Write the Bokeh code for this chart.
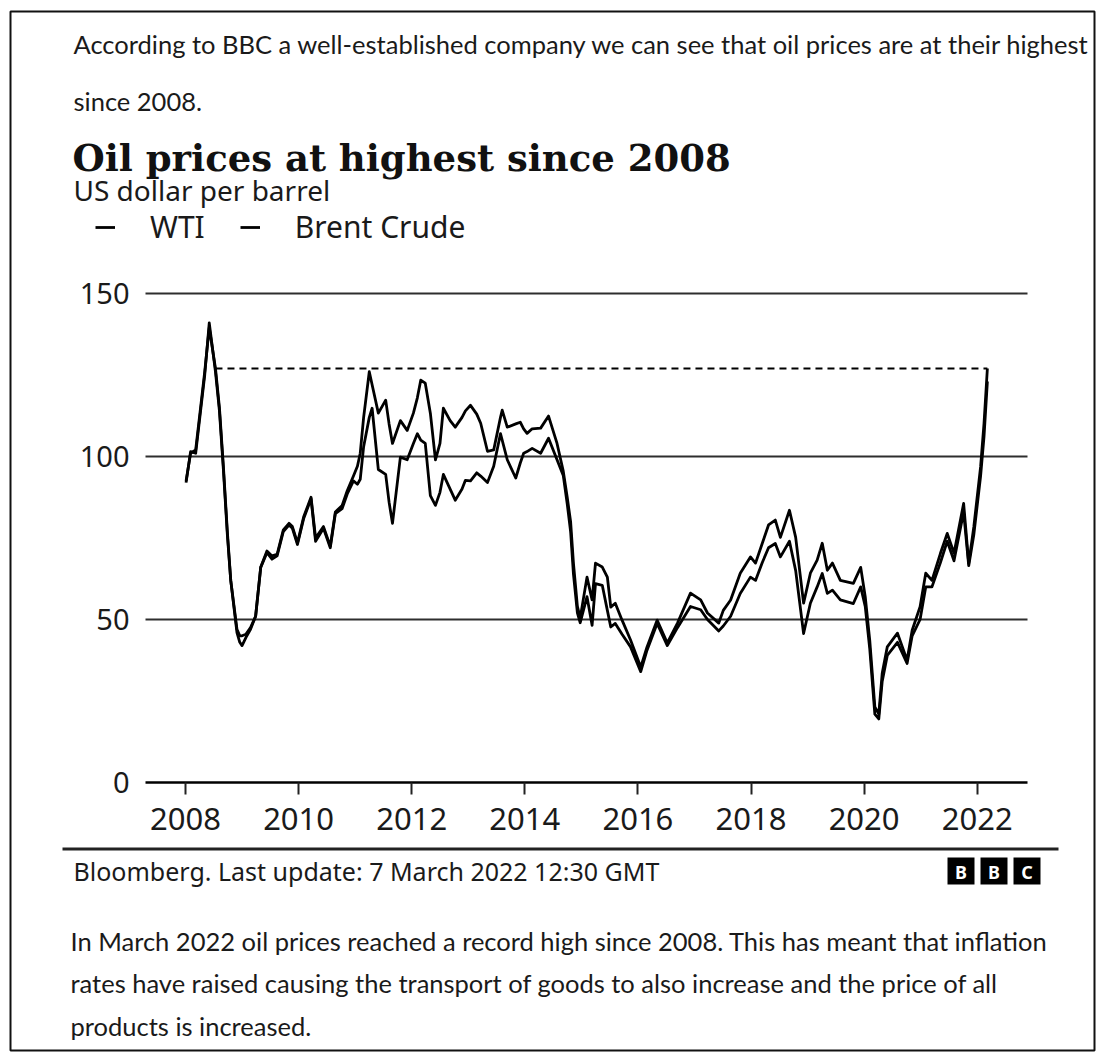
from bokeh.plotting import figure
from bokeh.models import (Range1d, FixedTicker, Label, BoxAnnotation, Legend, LegendItem,
                          ColumnDataSource, Grid)
from bokeh.embed import file_html
from bokeh.resources import INLINE

# ---------------- data (decimal years, US$ per barrel) ----------------
dates = [2008.01, 2008.09, 2008.18, 2008.26, 2008.34, 2008.42, 2008.53, 2008.60, 2008.67, 2008.74,
         2008.80, 2008.91, 2008.96, 2009.00, 2009.07, 2009.15, 2009.24, 2009.33, 2009.44, 2009.53,
         2009.62, 2009.73, 2009.83, 2009.89, 2009.98, 2010.09, 2010.22, 2010.30, 2010.44, 2010.56,
         2010.65, 2010.77, 2010.86, 2010.97, 2011.04, 2011.09, 2011.15, 2011.25, 2011.30, 2011.41,
         2011.54, 2011.60, 2011.66, 2011.80, 2011.92, 2012.03, 2012.10, 2012.16, 2012.24, 2012.33,
         2012.42, 2012.50, 2012.56, 2012.68, 2012.77, 2012.89, 2012.95, 2013.04, 2013.15, 2013.22,
         2013.34, 2013.45, 2013.57, 2013.60, 2013.69, 2013.84, 2013.92, 2013.98, 2014.04, 2014.13,
         2014.28, 2014.42, 2014.57, 2014.68, 2014.75, 2014.81, 2014.86, 2014.93, 2014.98, 2015.10,
         2015.19, 2015.25, 2015.37, 2015.46, 2015.52, 2015.60, 2015.72, 2015.87, 2016.05, 2016.16,
         2016.34, 2016.52, 2016.70, 2016.93, 2017.11, 2017.23, 2017.43, 2017.51, 2017.64, 2017.81,
         2017.99, 2018.08, 2018.20, 2018.31, 2018.43, 2018.52, 2018.68, 2018.79, 2018.93, 2019.05,
         2019.17, 2019.26, 2019.35, 2019.44, 2019.58, 2019.81, 2019.94, 2020.02, 2020.10, 2020.19,
         2020.26, 2020.32, 2020.41, 2020.59, 2020.76, 2020.85, 2020.99, 2021.09, 2021.20, 2021.35,
         2021.47, 2021.59, 2021.76, 2021.85, 2021.94, 2022.06, 2022.12, 2022.18]

brent = [92.5, 101, 102, 114, 126, 139.5, 127, 115, 97, 77,
         62, 47, 45, 45, 45.5, 47.5, 51, 66, 71, 69.5,
         70, 77.5, 79.5, 78.5, 73.5, 81.5, 87.5, 75, 78.5, 72.5,
         83, 85, 89.5, 94, 97, 101, 112, 126, 122, 113.3,
         117.3, 110, 104, 111, 108, 113.3, 118, 123.4, 122.5, 113.3,
         99, 104, 114.8, 111, 109, 112, 114, 115.7, 113, 110.2,
         101.6, 102, 112, 114.2, 109, 110, 110.5, 108.5, 107.1, 108.5,
         108.7, 112.4, 104, 95.5, 87.5, 80, 67.3, 54, 50.5, 63,
         56, 67.3, 66.1, 63, 53.8, 55, 49.8, 43.7, 35.4, 41.5,
         49.8, 42.8, 48.9, 58.1, 56, 52, 48.9, 52.8, 56, 64.2,
         69.2, 67.3, 73.4, 79, 80.5, 75.2, 83.5, 75.2, 55, 64.2,
         68.2, 73.4, 65.1, 67.3, 62, 61.1, 66, 57, 43.6, 23.2,
         21, 33.5, 41.6, 45.8, 37.5, 46.7, 53.9, 64.2, 62, 70.3,
         76.4, 70.3, 85.6, 67.2, 78.4, 96.8, 110, 127]

wti = [92, 101.5, 101, 113, 125, 141, 126, 114, 96, 76,
       62, 46, 43, 42, 44.5, 47, 51, 66, 70.5, 68.5,
       69.5, 77, 79, 78, 73, 81, 87, 74, 78, 72,
       82.5, 84, 88.5, 92.5, 91.5, 93, 103, 112, 114.8, 96,
       94.5, 86, 79.5, 99.8, 99, 104, 107, 105, 104, 88,
       85, 89, 94.5, 90, 86.6, 90, 92.7, 92.5, 95, 94,
       92, 97, 107, 105, 99, 93.4, 98, 101, 101.5, 102.5,
       101, 105.6, 99, 94.2, 85.5, 77, 64, 52, 49, 57,
       48.2, 61, 60.5, 52.8, 47.7, 48.8, 45.5, 41.6, 34, 40.5,
       48.8, 42, 47.5, 54, 53, 50, 46.5, 48, 51, 58,
       63, 62, 67.5, 72, 73.3, 69.2, 74, 65, 45.7, 55,
       60, 64.1, 58, 59, 56, 54.9, 60, 54, 41, 21,
       19.5, 31, 39, 43, 36.5, 45, 50, 60, 60, 67.5,
       74, 68, 83, 66.5, 76, 94, 106, 123]

x_ticks = [2008, 2010, 2012, 2014, 2016, 2018, 2020, 2022]
y_ticks = [0, 50, 100, 150]
grid_values = [50, 100, 150]
record_since = 2008.53          # date the price last stood at today's level
record_level = brent[-1]

series_names = ["WTI", "Brent Crude"]

title_text = "Oil prices at highest since 2008"
subtitle_text = "US dollar per barrel"
source_text = "Bloomberg. Last update: 7 March 2022 12:30 GMT"
intro_lines = ["According to BBC a well-established company we can see that oil prices are at their highest",
               "since 2008."]
outro_lines = ["In March 2022 oil prices reached a record high since 2008. This has meant that inflation",
               "rates have raised causing the transport of goods to also increase and the price of all",
               "products is increased."]

# ---------------- layout constants (canvas pixels) ----------------
W, H = 1103, 1059
PLOT_LEFT, PLOT_RIGHT, ZERO_Y = 145, 1027, 782
X2008 = 185
PX_PER_YEAR = 56.55
PX_PER_UNIT = 3.26

# the frame fills the whole canvas; ranges chosen so the data area lands where it should
x_start = 2008 - X2008 / PX_PER_YEAR
x_end = 2008 + (W - X2008) / PX_PER_YEAR
y_start = -(H - ZERO_Y) / PX_PER_UNIT
y_end = ZERO_Y / PX_PER_UNIT
x_left = 2008 - (X2008 - PLOT_LEFT) / PX_PER_YEAR
x_right = 2008 + (PLOT_RIGHT - X2008) / PX_PER_YEAR


def sx(X):
    return X


def sy(Y):
    return H - Y


p = figure(width=W, height=H, output_backend="svg", toolbar_location=None,
           x_range=Range1d(x_start, x_end), y_range=Range1d(y_start, y_end),
           min_border=0, min_border_left=0, min_border_right=0,
           min_border_top=0, min_border_bottom=0)
p.outline_line_color = None
p.background_fill_color = "white"
p.border_fill_color = "white"

TXT = "#1a1a1a"
SANS = "Noto Sans"

# axes drawn inside the frame at fixed data locations
p.xaxis.fixed_location = 0
p.xaxis.bounds = (x_left, x_right)
p.xaxis.ticker = FixedTicker(ticks=x_ticks)
p.xaxis.axis_line_color = "black"
p.xaxis.axis_line_width = 2.5
p.xaxis.major_tick_line_color = "#222"
p.xaxis.major_tick_line_width = 2
p.xaxis.major_tick_out = 12
p.xaxis.major_tick_in = 0
p.xaxis.minor_tick_line_color = None
p.xaxis.major_label_standoff = 13
p.xaxis.major_label_text_font = SANS
p.xaxis.major_label_text_font_size = "31px"
p.xaxis.major_label_text_color = TXT

p.yaxis.fixed_location = x_left
p.yaxis.ticker = FixedTicker(ticks=y_ticks)
p.yaxis.axis_line_color = None
p.yaxis.major_tick_line_color = None
p.yaxis.minor_tick_line_color = None
p.yaxis.major_label_standoff = 10
p.yaxis.major_label_text_font = SANS
p.yaxis.major_label_text_font_size = "29px"
p.yaxis.major_label_text_color = TXT

# grid
p.xgrid.visible = False
if "cross_bounds" in Grid.properties():
    p.ygrid.ticker = FixedTicker(ticks=grid_values)
    p.ygrid.cross_bounds = (x_left, x_right)
    p.ygrid.grid_line_color = "#2e2e2e"
    p.ygrid.grid_line_width = 2
else:
    p.ygrid.visible = False
    p.segment(x0=[x_left] * len(grid_values), x1=[x_right] * len(grid_values),
              y0=grid_values, y1=grid_values, line_color="#2e2e2e", line_width=2)

# data
src = ColumnDataSource(dict(t=dates, brent=brent, wti=wti))
r_wti = p.line("t", "wti", source=src, line_color="black", line_width=2.8, line_join="round")
r_brent = p.line("t", "brent", source=src, line_color="black", line_width=2.8, line_join="round")
p.line([record_since, dates[-1]], [record_level, record_level], line_color="black",
       line_width=2, line_dash="7 5")

legend = Legend(items=[LegendItem(label=series_names[0], renderers=[r_wti]),
                       LegendItem(label=series_names[1], renderers=[r_brent])],
                location=(sx(95), sy(247)), orientation="horizontal",
                glyph_width=20, glyph_height=20, label_standoff=35, spacing=35,
                padding=0, margin=0, border_line_color=None, background_fill_alpha=0,
                label_text_font=SANS, label_text_font_size="30px", label_text_color=TXT)
p.add_layout(legend, "center")


def add_text(txt, X, Y, size, font=SANS, style="normal", color=TXT, align="left"):
    p.add_layout(Label(x=sx(X), y=sy(Y), x_units="screen", y_units="screen", text=txt,
                       text_font=font, text_font_size=size, text_font_style=style,
                       text_color=color, text_baseline="middle", text_align=align))


def add_box(L, R, T, B, **kw):
    p.add_layout(BoxAnnotation(left=sx(L), right=sx(R), top=sy(T), bottom=sy(B),
                               left_units="screen", right_units="screen", top_units="screen",
                               bottom_units="screen", **kw))


for i, line in enumerate(intro_lines):
    add_text(line, 73, [43, 100][i], "25.5px", font="Lato")
add_text(title_text, 72, 157, "37px", font="DejaVu Serif", style="bold", color="#111")
add_text(subtitle_text, 73, 189, "28px")
add_text(source_text, 73, 870, "25px")
for i, line in enumerate(outro_lines):
    add_text(line, 70, [940, 982, 1025][i], "25.5px", font="Lato")

# separator line below axis
add_box(62, 1058, 847, 850, fill_color="#222", fill_alpha=1, line_color=None)

# BBC logo blocks
for i, ch in enumerate(["B", "B", "C"]):
    L = 947 + i * 33
    add_box(L, L + 27, 857, 884, fill_color="black", fill_alpha=1, line_color=None)
    add_text(ch, L + 13.5, 871, "18px", style="bold", color="white", align="center")

# page frame
add_box(10, 1094, 11, 1050, fill_alpha=0, line_color="#111", line_alpha=1, line_width=2)

open("out.html", "w").write(file_html(p, INLINE))
